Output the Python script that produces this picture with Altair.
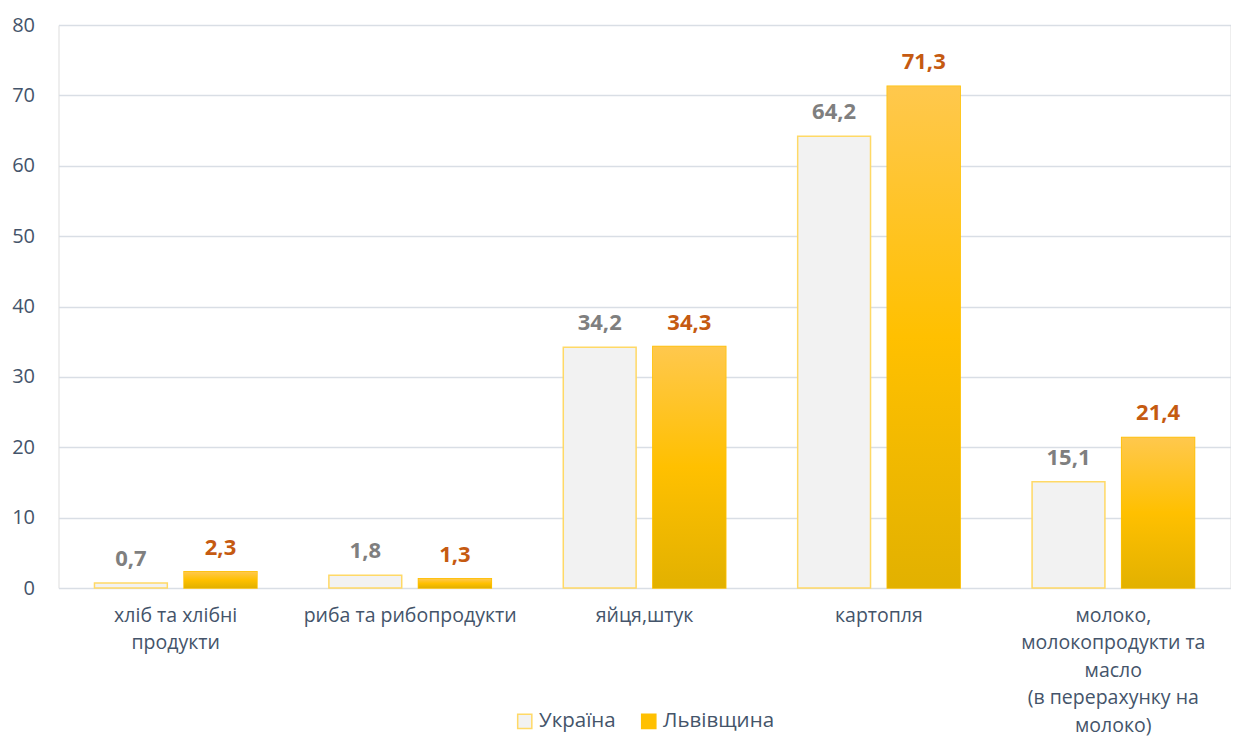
import altair as alt
import pandas as pd

categories = ["хліб та хлібні|продукти", "риба та рибопродукти", "яйця,штук", "картопля",
              "молоко,|молокопродукти та|масло|(в перерахунку на|молоко)"]
ukraine = [0.7, 1.8, 34.2, 64.2, 15.1]
lviv = [2.3, 1.3, 34.3, 71.3, 21.4]
series = ["Україна", "Львівщина"]

rows = []
for c, u, l in zip(categories, ukraine, lviv):
    rows.append({"cat": c, "series": series[0], "value": u})
    rows.append({"cat": c, "series": series[1], "value": l})
df = pd.DataFrame(rows)

FONT = "Open Sans"

x_enc = alt.X("cat:N", sort=categories, title=None,
              scale=alt.Scale(paddingInner=0.307, paddingOuter=0.1535),
              axis=alt.Axis(labelAngle=0, labelExpr="split(datum.label, '|')",
                            labelFontSize=19.5, labelColor="#44546A", labelFont=FONT,
                            labelLineHeight=27.5, labelPadding=18, ticks=False,
                            domain=False, labelBaseline="top", labelLimit=300))
xo_enc = alt.XOffset("series:N", sort=series,
                     scale=alt.Scale(paddingInner=0.187, paddingOuter=0))
y_enc = alt.Y("value:Q", title=None,
              scale=alt.Scale(domain=[0, 80]),
              axis=alt.Axis(values=list(range(0, 81, 10)), labelFontSize=20,
                            labelColor="#44546A", labelFont=FONT, ticks=False,
                            domain=False, gridColor="#D9DEE5", gridWidth=1.3,
                            labelPadding=24))

legend = alt.Legend(title=None, orient="none", legendX=456, legendY=686,
                    direction="horizontal", symbolType="square",
                    symbolSize=200, symbolStrokeWidth=1.5,
                    labelFontSize=20.5, labelColor="#44546A", labelFont=FONT,
                    columnPadding=22, labelOffset=4)

base = alt.Chart(df).encode(x=x_enc, xOffset=xo_enc, y=y_enc)

bars = base.mark_bar(strokeWidth=1.5).encode(
    fill=alt.Fill("series:N", sort=series,
                  scale=alt.Scale(domain=series, range=["#F2F2F2", "#FFC000"]),
                  legend=legend),
    stroke=alt.Stroke("series:N", sort=series,
                      scale=alt.Scale(domain=series, range=["#FFD966", "#FFC000"]),
                      legend=legend),
)

grad = base.transform_filter(alt.datum.series == "Львівщина").mark_bar(
    fill=alt.Gradient(gradient="linear", x1=0, y1=0, x2=0, y2=1,
                      stops=[alt.GradientStop(color="#FFC84D", offset=0),
                             alt.GradientStop(color="#FFC000", offset=0.5),
                             alt.GradientStop(color="#E2B100", offset=1)]),
    stroke="#FFC000", strokeWidth=0.01
)

labels = base.transform_calculate(
    lab="replace(format(datum.value, '.1f'), '.', ',')"
).mark_text(baseline="bottom", dy=-12, fontSize=22, fontWeight="bold", font=FONT).encode(
    text="lab:N",
    color=alt.Color("series:N", sort=series,
                    scale=alt.Scale(domain=series, range=["#7F7F7F", "#C55A11"]),
                    legend=None),
)

chart = alt.layer(bars, grad, labels).resolve_scale(color="independent").properties(
    width=1172, height=563,
    autosize=alt.AutoSizeParams(type="none"),
    padding={"left": 50.5, "top": 17, "right": 0, "bottom": 149},
).configure_view(stroke=None).configure(background="white")

chart.save("out.html", embed_options={"renderer": "svg", "actions": False})
